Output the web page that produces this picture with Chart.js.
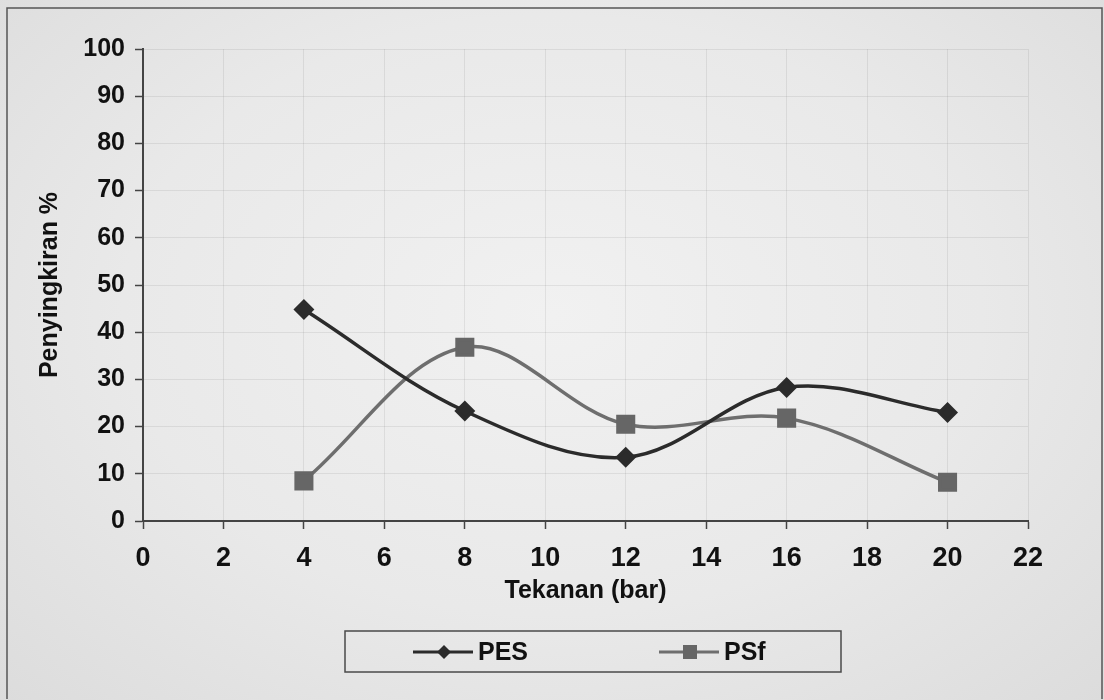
<!DOCTYPE html>
<html>
<head>
<meta charset="utf-8">
<script src="https://cdn.jsdelivr.net/npm/chart.js@4.4.0/dist/chart.umd.min.js"></script>
<style>
  html, body { margin: 0; padding: 0; }
  body {
    width: 1104px; height: 700px; overflow: hidden;
    background: radial-gradient(ellipse at 50% 45%, #f1f1f1 0%, #e9e9e9 55%, #dcdcdc 100%);
  }
  #wrap { position: absolute; left: 0; top: 0; width: 1104px; height: 700px; }
</style>
</head>
<body>
<div id="wrap"><canvas id="c" width="1104" height="700"></canvas></div>
<script>
// ---- data ----
const pressure = [4, 8, 12, 16, 20];          // Tekanan (bar)
const pesValues = [44.8, 23.3, 13.5, 28.3, 23.0];
const psfValues = [8.5, 36.8, 20.5, 21.8, 8.2];
const seriesLabels = ['PES', 'PSf'];
const xTitle = 'Tekanan (bar)';
const yTitle = 'Penyingkiran %';

const FONT = "'Liberation Sans', Arial, sans-serif";
const TEXT = '#111';
const pesColor = '#2b2b2b';
const psfColor = '#6e6e6e';

const toPoints = (vals) => pressure.map((x, i) => ({ x: x, y: vals[i] }));

const framePlugin = {
  id: 'frame',
  beforeDraw(chart) {
    const ctx = chart.ctx;
    ctx.save();
    ctx.strokeStyle = '#555';
    ctx.lineWidth = 1.5;
    ctx.beginPath();
    ctx.moveTo(7, 699); ctx.lineTo(7, 8); ctx.lineTo(1102, 8); ctx.lineTo(1102, 699);
    ctx.stroke();
    ctx.restore();
  }
};

const legendPlugin = {
  id: 'boxLegend',
  afterDraw(chart) {
    const ctx = chart.ctx;
    ctx.save();
    ctx.strokeStyle = '#4a4a4a';
    ctx.lineWidth = 1.5;
    ctx.strokeRect(345, 631, 496, 41);
    const centers = [444, 690];
    chart.data.datasets.forEach((ds, i) => {
      const cx = centers[i], cy = 652;
      ctx.strokeStyle = ds.borderColor;
      ctx.lineWidth = 3;
      ctx.beginPath(); ctx.moveTo(cx - 31, cy); ctx.lineTo(cx + 29, cy); ctx.stroke();
      ctx.fillStyle = ds.pointBackgroundColor;
      ctx.beginPath();
      if (ds.pointStyle === 'rectRot') {
        const r = 7;
        ctx.moveTo(cx - r, cy); ctx.lineTo(cx, cy - r); ctx.lineTo(cx + r, cy); ctx.lineTo(cx, cy + r);
        ctx.closePath();
      } else {
        ctx.rect(cx - 7, cy - 7, 14, 14);
      }
      ctx.fill();
      ctx.fillStyle = TEXT;
      ctx.font = "bold 25px " + FONT;
      ctx.textBaseline = 'middle';
      ctx.textAlign = 'left';
      ctx.fillText(ds.label, cx + 34, cy + 1);
    });
    ctx.restore();
  }
};

new Chart(document.getElementById('c'), {
  type: 'line',
  data: {
    datasets: [
      {
        label: seriesLabels[0],
        data: toPoints(pesValues),
        borderColor: pesColor,
        backgroundColor: pesColor,
        pointBackgroundColor: pesColor,
        pointBorderColor: pesColor,
        pointStyle: 'rectRot',
        pointRadius: 8,
        borderWidth: 3.5,
        tension: 0.35,
        fill: false
      },
      {
        label: seriesLabels[1],
        data: toPoints(psfValues),
        borderColor: psfColor,
        backgroundColor: '#666',
        pointBackgroundColor: '#666',
        pointBorderColor: '#666',
        pointStyle: 'rect',
        pointRadius: 11,
        borderWidth: 3.5,
        tension: 0.35,
        fill: false
      }
    ]
  },
  options: {
    responsive: false,
    animation: false,
    layout: { padding: { left: 0, right: 76, top: 49, bottom: 89 } },
    plugins: {
      legend: { display: false },
      tooltip: { enabled: false }
    },
    scales: {
      x: {
        type: 'linear',
        min: 0, max: 22,
        afterFit(scale) { scale.height = 90; },
        ticks: { stepSize: 2, color: TEXT, font: { family: FONT, size: 27, weight: 'bold' }, padding: 13, maxRotation: 0 },
        grid: { color: 'rgba(0,0,0,0.07)', lineWidth: 1, tickColor: '#444', tickLength: 8, tickWidth: 1.5 },
        border: { color: '#444', width: 2 },
        title: { display: true, text: xTitle, color: TEXT, font: { family: FONT, size: 25, weight: 'bold' }, padding: { top: 0, bottom: 5 } }
      },
      y: {
        min: 0, max: 100,
        afterFit(scale) { scale.width = 143; },
        ticks: { stepSize: 10, color: TEXT, font: { family: FONT, size: 25, weight: 'bold' }, padding: 10 },
        grid: { color: 'rgba(0,0,0,0.07)', lineWidth: 1, tickColor: '#444', tickLength: 8, tickWidth: 1.5 },
        border: { color: '#444', width: 2 },
        title: { display: true, text: yTitle, color: TEXT, font: { family: FONT, size: 25, weight: 'bold' }, padding: { top: 35, bottom: 0 } }
      }
    }
  },
  plugins: [framePlugin, legendPlugin]
});
</script>
</body>
</html>
